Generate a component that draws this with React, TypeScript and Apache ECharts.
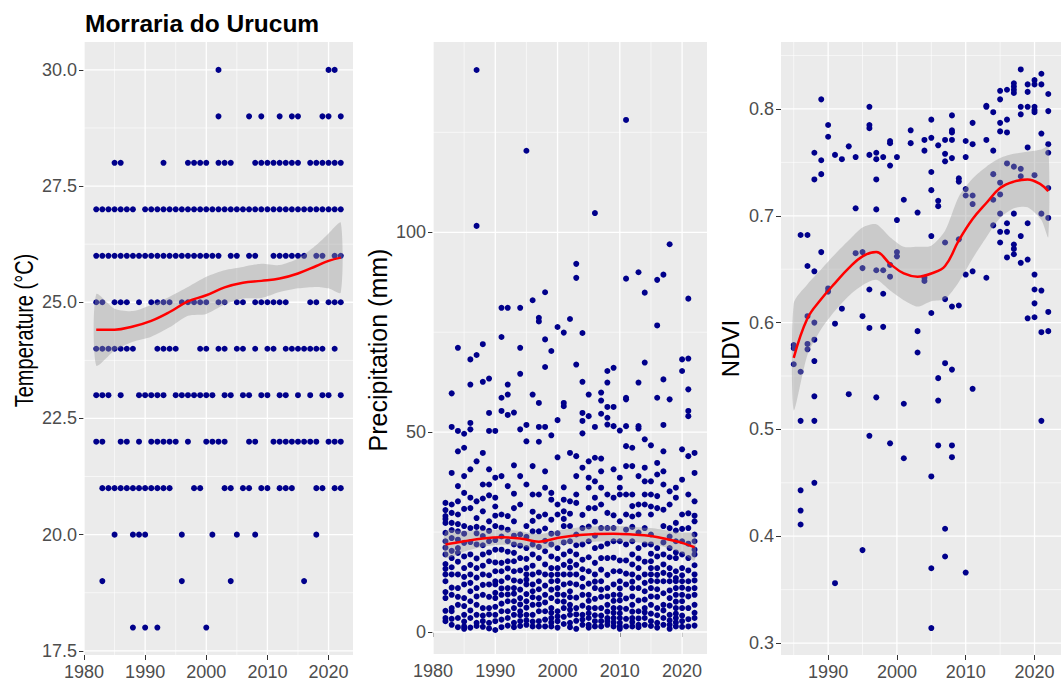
import React, { useEffect, useRef } from 'react';
import * as echarts from 'echarts';

const FONT = '"Liberation Sans", Arial, Helvetica, sans-serif';
const POINT = '#00008B';

// ---------- Temperature (°C): years in which each (integer) monthly value occurs ----------
const temp30 = [2002, 2020, 2021];
const temp29 = [2002, 2007, 2009, 2012, 2014, 2015, 2019, 2020, 2022];
const temp28 = [1985, 1986, 1993, 1997, 1998, 1999, 2000, 2002, 2003, 2004, 2008, 2009, 2010, 2011, 2012, 2013, 2014, 2015, 2017, 2018, 2019, 2020, 2021, 2022];
const temp27 = [1982, 1983, 1984, 1985, 1986, 1987, 1988, 1990, 1991, 1992, 1993, 1994, 1995, 1996, 1997, 1998, 1999, 2000, 2001, 2002, 2003, 2004, 2005, 2006, 2007, 2008, 2009, 2010, 2011, 2012, 2013, 2014, 2015, 2016, 2017, 2018, 2019, 2020, 2021, 2022];
const temp26 = [1982, 1983, 1984, 1985, 1986, 1987, 1988, 1989, 1990, 1991, 1992, 1993, 1994, 1995, 1996, 1997, 1998, 1999, 2000, 2001, 2002, 2004, 2005, 2007, 2008, 2011, 2012, 2013, 2014, 2015, 2016, 2018, 2019, 2021, 2022];
const temp25 = [1982, 1983, 1985, 1986, 1987, 1989, 1991, 1992, 1993, 1994, 1996, 1997, 1998, 1999, 2000, 2002, 2003, 2005, 2006, 2008, 2009, 2010, 2011, 2012, 2013, 2017, 2018, 2020, 2021, 2022];
const temp24 = [1982, 1983, 1984, 1985, 1986, 1987, 1988, 1992, 1993, 1994, 1995, 1999, 2000, 2002, 2003, 2005, 2006, 2008, 2010, 2011, 2013, 2014, 2015, 2016, 2017, 2018, 2019, 2021];
const temp23 = [1982, 1983, 1984, 1986, 1989, 1990, 1991, 1992, 1993, 1995, 1996, 1997, 1998, 1999, 2000, 2001, 2003, 2004, 2006, 2007, 2009, 2010, 2012, 2013, 2015, 2017, 2019, 2020, 2022];
const temp22 = [1982, 1983, 1986, 1987, 1989, 1991, 1992, 1993, 1994, 1995, 1997, 2000, 2001, 2002, 2003, 2007, 2008, 2011, 2012, 2013, 2014, 2015, 2016, 2017, 2018, 2020, 2021, 2022];
const temp21 = [1983, 1984, 1985, 1986, 1987, 1988, 1989, 1990, 1991, 1992, 1993, 1994, 1998, 1999, 2003, 2004, 2006, 2007, 2009, 2010, 2012, 2013, 2014, 2018, 2019, 2021, 2022];
const temp20 = [1985, 1988, 1989, 1990, 1996, 2001, 2005, 2008, 2018];
const temp19 = [1983, 1996, 2004, 2016];
const temp18 = [1988, 1990, 1992, 2000];
const tempLevels = [30, 29, 28, 27, 26, 25, 24, 23, 22, 21, 20, 19, 18];
const tempYearLists = [temp30, temp29, temp28, temp27, temp26, temp25, temp24, temp23, temp22, temp21, temp20, temp19, temp18];

// smooth fit (loess) for temperature
const tempFitX = [1982, 1985, 1988, 1991, 1994, 1997, 2000, 2003, 2006, 2009, 2012, 2015, 2018, 2020, 2022];
const tempFit = [24.41, 24.41, 24.48, 24.60, 24.79, 25.02, 25.15, 25.32, 25.42, 25.46, 25.51, 25.62, 25.78, 25.89, 25.96];
const tempHi = [25.17, 24.86, 24.81, 24.94, 25.12, 25.33, 25.55, 25.69, 25.76, 25.83, 25.80, 25.94, 26.23, 26.48, 26.71];
const tempLo = [23.64, 23.96, 24.15, 24.26, 24.46, 24.71, 24.75, 24.95, 25.08, 25.09, 25.22, 25.30, 25.33, 25.30, 25.21];

// ---------- Precipitation (mm): values per year ----------
const precipYears = [1982, 1983, 1984, 1985, 1986, 1987, 1988, 1989, 1990, 1991, 1992, 1993, 1994, 1995, 1996, 1997, 1998, 1999, 2000, 2001, 2002, 2003, 2004, 2005, 2006, 2007, 2008, 2009, 2010, 2011, 2012, 2013, 2014, 2015, 2016, 2017, 2018, 2019, 2020, 2021, 2022];
const precipValues: number[][] = [
  [2.7, 3.5, 5.3, 8.5, 10.0, 12.7, 14.4, 15.8, 17.0, 19.4, 21.1, 22.7, 24.8, 27.3, 28.3, 29.0, 30.5, 32.3],
  [1.8, 3.3, 5.2, 6.0, 9.3, 11.1, 14.4, 16.2, 18.5, 20.3, 23.5, 25.5, 27.3, 29.8, 31.9, 39.8, 51.3, 59.7],
  [1.2, 3.5, 6.8, 8.8, 11.0, 14.4, 17.6, 19.8, 21.0, 23.1, 25.2, 27.0, 29.4, 32.7, 36.5, 45.2, 50.3, 71.1],
  [0.8, 1.4, 2.6, 4.3, 6.5, 8.5, 11.9, 13.8, 16.0, 18.9, 22.3, 24.6, 26.5, 30.8, 34.8, 39.0, 46.1, 49.6],
  [1.1, 3.5, 5.4, 7.7, 10.2, 12.3, 14.4, 16.8, 19.4, 22.5, 26.0, 31.0, 33.6, 40.7, 50.7, 52.3, 61.9, 68.2],
  [1.5, 2.3, 4.3, 6.8, 8.9, 11.0, 13.6, 16.0, 18.4, 21.9, 24.7, 26.3, 28.5, 32.7, 42.7, 69.3, 101.6, 140.6],
  [1.3, 2.7, 4.1, 6.0, 9.3, 11.8, 14.4, 16.6, 19.4, 21.7, 24.0, 26.0, 30.2, 33.4, 36.9, 44.8, 62.6, 72.0],
  [0.9, 2.3, 4.4, 6.0, 8.8, 11.9, 14.2, 17.7, 19.9, 22.7, 25.3, 27.7, 34.2, 36.9, 40.7, 50.3, 54.8, 63.4],
  [0.5, 2.7, 4.3, 6.3, 8.5, 9.8, 11.9, 12.7, 15.2, 17.4, 20.6, 23.0, 26.5, 29.1, 31.4, 33.6, 38.6, 50.3],
  [1.2, 3.1, 5.2, 7.1, 9.3, 10.9, 12.7, 15.2, 17.3, 20.6, 23.9, 26.1, 29.4, 39.0, 55.3, 58.6, 73.8, 81.1],
  [1.6, 3.5, 5.2, 7.7, 9.4, 11.0, 13.6, 15.9, 17.7, 20.1, 22.7, 25.6, 29.0, 36.5, 54.3, 59.4, 61.9, 81.1],
  [1.2, 2.3, 4.3, 6.0, 7.7, 9.6, 11.0, 12.9, 15.2, 17.7, 19.8, 21.9, 24.1, 27.7, 31.0, 34.6, 41.7, 54.9],
  [1.5, 2.7, 4.2, 5.2, 6.9, 8.5, 10.6, 12.7, 15.4, 18.5, 21.6, 24.4, 31.9, 39.0, 50.7, 64.6, 71.1, 81.1],
  [1.8, 2.9, 4.3, 6.1, 7.7, 9.5, 11.9, 13.1, 14.4, 16.0, 18.3, 21.0, 23.8, 26.5, 36.9, 47.7, 51.8, 120.4],
  [1.4, 2.6, 4.3, 6.8, 8.7, 10.2, 11.9, 14.4, 16.6, 19.4, 21.9, 25.2, 27.8, 30.1, 34.4, 41.5, 59.4, 83.0],
  [1.4, 2.7, 5.2, 6.9, 8.5, 10.7, 12.7, 14.9, 18.5, 21.3, 25.2, 28.9, 34.4, 47.6, 51.3, 57.3, 77.7, 78.6],
  [1.4, 3.1, 5.2, 7.4, 9.3, 11.6, 14.4, 16.9, 20.2, 22.8, 25.9, 29.4, 36.1, 40.2, 51.3, 66.3, 73.2, 85.0],
  [1.4, 2.4, 3.5, 4.8, 6.0, 8.5, 10.6, 12.7, 14.3, 16.0, 18.9, 21.9, 24.6, 28.1, 33.1, 34.8, 49.2, 70.3],
  [1.1, 2.7, 3.9, 5.2, 7.7, 9.4, 11.0, 12.8, 14.4, 16.0, 18.3, 21.0, 24.7, 29.4, 31.9, 43.7, 53.0, 76.3],
  [2.0, 3.8, 6.0, 7.6, 9.3, 11.9, 14.4, 16.8, 19.4, 22.4, 26.5, 28.3, 30.2, 33.1, 36.2, 56.5, 57.3, 74.9],
  [1.2, 2.3, 4.3, 5.6, 6.8, 8.7, 10.2, 12.2, 14.4, 16.1, 17.7, 20.2, 22.7, 26.5, 29.6, 32.7, 44.8, 78.3],
  [0.8, 2.8, 4.4, 6.0, 8.6, 11.9, 14.4, 16.8, 19.4, 21.7, 24.4, 32.3, 34.4, 39.0, 44.0, 66.9, 88.6, 92.1],
  [1.8, 3.1, 4.3, 6.6, 9.3, 11.3, 13.5, 15.7, 18.1, 21.9, 26.0, 29.3, 41.1, 49.7, 52.8, 54.8, 62.6, 74.8],
  [1.1, 1.8, 3.5, 4.7, 6.0, 7.8, 9.3, 12.1, 15.2, 18.7, 22.7, 26.4, 31.0, 36.1, 38.6, 42.7, 54.0, 59.4],
  [1.4, 2.7, 4.2, 6.0, 8.3, 11.0, 12.6, 14.4, 17.3, 21.0, 24.1, 27.6, 31.0, 33.6, 37.7, 43.6, 51.3, 104.8],
  [1.4, 2.7, 4.1, 6.0, 8.8, 10.6, 12.7, 15.6, 18.5, 21.4, 26.0, 31.9, 36.1, 40.2, 43.4, 54.6, 57.9, 59.9],
  [1.8, 2.7, 3.5, 5.1, 6.8, 8.9, 11.0, 14.3, 18.5, 22.1, 26.0, 29.8, 34.4, 51.9, 53.6, 56.3, 62.4, 65.3],
  [1.4, 2.4, 3.5, 4.8, 6.0, 7.8, 9.3, 11.9, 15.2, 18.6, 22.7, 26.0, 29.2, 33.6, 40.7, 51.5, 56.3, 66.1],
  [0.8, 1.4, 2.3, 3.5, 4.7, 6.0, 7.9, 9.3, 10.9, 12.7, 15.2, 17.9, 22.7, 27.7, 34.4, 36.1, 38.6, 50.4],
  [1.4, 3.3, 5.8, 8.4, 11.9, 14.6, 17.9, 21.9, 25.6, 29.4, 34.4, 41.5, 46.5, 51.5, 58.2, 58.6, 88.4, 128.1],
  [1.4, 2.5, 3.5, 5.1, 6.8, 8.9, 11.0, 12.6, 14.4, 16.9, 19.4, 22.7, 26.3, 28.9, 31.5, 34.4, 41.5, 46.1],
  [1.2, 1.8, 3.4, 5.2, 7.9, 11.0, 13.6, 16.0, 18.4, 21.0, 24.9, 29.4, 31.9, 39.0, 50.9, 51.5, 62.4, 90.0],
  [1.8, 3.5, 4.9, 6.0, 8.1, 10.2, 12.3, 14.4, 17.6, 21.9, 26.0, 31.9, 34.4, 37.7, 41.1, 48.2, 67.4, 84.9],
  [1.5, 2.7, 4.6, 6.8, 8.9, 11.0, 12.8, 14.4, 16.0, 17.7, 19.6, 21.9, 24.4, 29.4, 31.4, 34.4, 37.7, 46.7],
  [1.1, 2.3, 4.2, 6.0, 8.8, 10.7, 12.7, 14.3, 16.0, 18.9, 21.0, 31.0, 34.0, 39.4, 42.3, 58.6, 76.7, 88.1],
  [1.8, 3.5, 5.4, 6.8, 9.7, 12.7, 14.8, 16.9, 19.4, 22.4, 26.5, 30.6, 36.9, 40.2, 45.2, 51.8, 63.2, 89.4],
  [0.8, 1.8, 2.9, 4.3, 6.6, 8.5, 10.4, 12.7, 14.3, 16.0, 18.7, 21.0, 23.9, 26.0, 31.9, 35.2, 58.2, 97.0],
  [1.4, 2.4, 3.5, 4.6, 6.0, 7.6, 9.3, 11.0, 12.7, 13.5, 15.2, 18.5, 19.9, 22.7, 25.4, 27.3, 33.6, 36.1],
  [1.3, 2.7, 4.1, 6.0, 7.7, 9.3, 11.1, 12.7, 14.2, 16.0, 19.4, 22.7, 25.8, 29.4, 38.1, 45.7, 65.3, 68.2],
  [1.4, 3.2, 6.0, 8.9, 10.8, 12.7, 15.4, 18.5, 22.1, 26.0, 29.7, 34.4, 44.0, 54.0, 55.3, 60.7, 68.4, 83.4],
  [1.6, 3.5, 4.8, 6.8, 9.3, 11.0, 12.9, 14.4, 16.7, 19.4, 20.6, 22.7, 24.4, 27.7, 29.1, 32.7, 39.8, 44.8],
];
const precipFitX = [1982, 1985, 1988, 1991, 1994, 1997, 2000, 2003, 2006, 2009, 2012, 2015, 2018, 2020, 2022];
const precipFit = [21.9, 22.7, 23.4, 23.7, 23.4, 22.6, 23.5, 24.2, 24.5, 24.6, 24.4, 24.0, 23.1, 22.3, 21.2];
const precipHi = [25.2, 25.3, 25.5, 25.6, 25.3, 24.5, 25.4, 26.1, 26.4, 26.5, 26.3, 26.0, 25.3, 24.9, 24.5];
const precipLo = [18.6, 20.1, 21.3, 21.8, 21.5, 20.7, 21.6, 22.3, 22.6, 22.7, 22.5, 22.0, 20.9, 19.7, 17.9];

// ---------- NDVI: values per year ----------
const ndviYears = [1985, 1986, 1987, 1988, 1989, 1990, 1991, 1992, 1993, 1994, 1995, 1996, 1997, 1998, 1999, 2000, 2001, 2002, 2003, 2004, 2005, 2006, 2007, 2008, 2009, 2010, 2011, 2013, 2014, 2015, 2016, 2017, 2018, 2019, 2020, 2021, 2022];
const ndviValues: number[][] = [
  [0.579, 0.576, 0.561],
  [0.682, 0.554, 0.508, 0.443, 0.424, 0.411],
  [0.682, 0.653, 0.606, 0.580, 0.575],
  [0.759, 0.734, 0.648, 0.600, 0.584, 0.564, 0.531, 0.508, 0.450],
  [0.809, 0.752, 0.739, 0.666],
  [0.785, 0.774, 0.632, 0.629],
  [0.757, 0.599, 0.356],
  [0.753, 0.613],
  [0.765, 0.533],
  [0.755, 0.707, 0.665],
  [0.666, 0.651, 0.606, 0.387],
  [0.802, 0.785, 0.782, 0.757, 0.631, 0.595, 0.494],
  [0.759, 0.753, 0.734, 0.706, 0.649, 0.530],
  [0.755, 0.649, 0.627, 0.596],
  [0.770, 0.768, 0.747, 0.654, 0.643, 0.487],
  [0.755, 0.696, 0.666, 0.662],
  [0.715, 0.524, 0.473],
  [0.780, 0.768],
  [0.703, 0.592, 0.572],
  [0.771, 0.761, 0.642, 0.639],
  [0.790, 0.773, 0.741, 0.724, 0.681, 0.609, 0.456, 0.370, 0.314],
  [0.766, 0.714, 0.709, 0.548, 0.527, 0.485],
  [0.771, 0.758, 0.751, 0.675, 0.622, 0.562, 0.407, 0.381],
  [0.794, 0.780, 0.778, 0.771, 0.754, 0.615, 0.556, 0.485, 0.474],
  [0.735, 0.732, 0.678, 0.616],
  [0.770, 0.755, 0.725, 0.719, 0.645, 0.366],
  [0.787, 0.767, 0.719, 0.711, 0.648, 0.538],
  [0.803, 0.802, 0.771, 0.642],
  [0.797, 0.761, 0.739, 0.715, 0.691],
  [0.817, 0.809, 0.787, 0.779, 0.731, 0.720, 0.702, 0.685, 0.675],
  [0.818, 0.790, 0.778, 0.749, 0.693, 0.685, 0.661],
  [0.824, 0.821, 0.818, 0.815, 0.746, 0.702, 0.673, 0.669, 0.664],
  [0.837, 0.802, 0.795, 0.744, 0.737, 0.681, 0.656],
  [0.823, 0.816, 0.802, 0.764, 0.693, 0.659, 0.604],
  [0.827, 0.823, 0.802, 0.799, 0.797, 0.738, 0.645, 0.631, 0.618, 0.605],
  [0.833, 0.823, 0.777, 0.702, 0.630, 0.591, 0.508],
  [0.814, 0.798, 0.767, 0.759, 0.726, 0.698, 0.610, 0.592],
];
const ndviFitX = [1985, 1987, 1989, 1991, 1993, 1995, 1997, 1999, 2001, 2003, 2005, 2007, 2009, 2011, 2013, 2015, 2017, 2019, 2021, 2022];
const ndviFit = [0.567, 0.604, 0.622, 0.637, 0.651, 0.662, 0.666, 0.655, 0.646, 0.643, 0.646, 0.653, 0.677, 0.697, 0.712, 0.726, 0.732, 0.734, 0.729, 0.723];
const ndviHi = [0.618, 0.636, 0.650, 0.664, 0.677, 0.689, 0.692, 0.680, 0.671, 0.671, 0.672, 0.686, 0.718, 0.735, 0.746, 0.754, 0.758, 0.760, 0.762, 0.765];
const ndviLo = [0.518, 0.570, 0.594, 0.611, 0.625, 0.635, 0.640, 0.630, 0.621, 0.615, 0.620, 0.622, 0.638, 0.660, 0.680, 0.698, 0.707, 0.708, 0.696, 0.680];

// ---------- axis ticks ----------
const yearTicks = [1980, 1990, 2000, 2010, 2020];
const yearMinor = [1985, 1995, 2005, 2015];
const ndviYearTicks = [1990, 2000, 2010, 2020];
const tempTicks = [17.5, 20, 22.5, 25, 27.5, 30];
const tempMinor = [18.75, 21.25, 23.75, 26.25, 28.75];
const precipTicks = [0, 50, 100];
const precipMinor = [25, 75, 125];
const ndviTicks = [0.3, 0.4, 0.5, 0.6, 0.7, 0.8];
const ndviMinor = [0.35, 0.45, 0.55, 0.65, 0.75, 0.85];

function xAxis(gi: number, min: number, max: number, ticks: number[]) {
  return {
    type: 'value', gridIndex: gi, min, max,
    axisLine: { show: false },
    axisTick: { show: true, length: 5, lineStyle: { color: '#333333', width: 1 }, customValues: ticks },
    axisLabel: { customValues: ticks, color: '#4D4D4D', fontSize: 18, fontFamily: FONT, margin: 8, formatter: (v: number) => String(v) },
    splitLine: { show: false },
  };
}

function yAxis(gi: number, min: number, max: number, ticks: number[], fmt: (v: number) => string) {
  return {
    type: 'value', gridIndex: gi, min, max,
    axisLine: { show: false },
    axisTick: { show: true, length: 5, lineStyle: { color: '#333333', width: 1 }, customValues: ticks },
    axisLabel: { customValues: ticks, color: '#4D4D4D', fontSize: 18, fontFamily: FONT, margin: 7, formatter: fmt },
    splitLine: { show: false },
  };
}

function gridLines(gi: number, values: number[], vertical: boolean, width: number, xMid: number, yMid: number) {
  return {
    type: 'custom', xAxisIndex: gi, yAxisIndex: gi, silent: true, z: 1,
    data: values.map((v) => (vertical ? [v, yMid] : [xMid, v])),
    renderItem: (params: any, api: any) => {
      const cs = params.coordSys;
      const p = api.coord([api.value(0), api.value(1)]);
      const shape = vertical
        ? { x1: p[0], y1: cs.y, x2: p[0], y2: cs.y + cs.height }
        : { x1: cs.x, y1: p[1], x2: cs.x + cs.width, y2: p[1] };
      return { type: 'line', shape, style: { stroke: '#FFFFFF', lineWidth: width } };
    },
  };
}

function band(gi: number, xs: number[], lo: number[], hi: number[]) {
  return {
    type: 'custom', xAxisIndex: gi, yAxisIndex: gi, silent: true, z: 3,
    data: [[xs[0], lo[0]]],
    renderItem: (params: any, api: any) => {
      if (params.dataIndex !== 0) return null;
      const pts: number[][] = [];
      xs.forEach((x, i) => pts.push(api.coord([x, hi[i]])));
      for (let i = xs.length - 1; i >= 0; i--) pts.push(api.coord([xs[i], lo[i]]));
      return { type: 'polygon', shape: { points: pts, smooth: 0.25 }, style: { fill: 'rgba(153,153,153,0.4)' } };
    },
  };
}

function fitLine(gi: number, xs: number[], ys: number[]) {
  return {
    type: 'line', xAxisIndex: gi, yAxisIndex: gi, silent: true, z: 4,
    data: xs.map((x, i) => [x, ys[i]]),
    smooth: 0.4, showSymbol: false, symbol: 'none',
    lineStyle: { color: '#FF0000', width: 2.5 },
  };
}

function scatter(gi: number, data: number[][]) {
  return {
    type: 'scatter', xAxisIndex: gi, yAxisIndex: gi, silent: true, z: 2,
    data, symbolSize: 6, itemStyle: { color: POINT, opacity: 1 },
  };
}

function axisTitle(text: string, x: number, y: number, size: number, squeeze: number) {
  return {
    type: 'text', x, y, rotation: Math.PI / 2, scaleX: squeeze, scaleY: 1, silent: true,
    style: {
      text, fontSize: size, fontFamily: FONT, fill: '#000000',
      align: 'center', verticalAlign: 'middle', textAlign: 'center', textVerticalAlign: 'middle',
    },
  };
}

const tempPoints: number[][] = [];
tempLevels.forEach((lv, i) => tempYearLists[i].forEach((yr) => tempPoints.push([yr, lv])));
const precipPoints: number[][] = [];
precipYears.forEach((yr, i) => precipValues[i].forEach((v) => precipPoints.push([yr, v])));
const ndviPoints: number[][] = [];
ndviYears.forEach((yr, i) => ndviValues[i].forEach((v) => ndviPoints.push([yr, v])));

const option: any = {
  animation: false,
  backgroundColor: '#FFFFFF',
  title: {
    text: 'Morraria do Urucum', left: 80, top: 6,
    textStyle: { fontSize: 24.5, fontWeight: 'bold', color: '#000000', fontFamily: FONT },
  },
  graphic: [
    axisTitle('Temperature (°C)', 24.5, 330.5, 25, 0.8),
    axisTitle('Precipitation (mm)', 377.5, 350, 25, 1),
    axisTitle('NDVI', 730, 348.5, 24, 1),
  ],
  grid: [
    { left: 84, top: 42, width: 269, height: 613, show: true, backgroundColor: '#EBEBEB', borderWidth: 0 },
    { left: 433, top: 42, width: 274, height: 612, show: true, backgroundColor: '#EBEBEB', borderWidth: 0 },
    { left: 781, top: 42, width: 280, height: 613, show: true, backgroundColor: '#EBEBEB', borderWidth: 0 },
  ],
  xAxis: [
    xAxis(0, 1980, 2024, yearTicks),
    xAxis(1, 1980, 2024, yearTicks),
    xAxis(2, 1983.15, 2023.85, ndviYearTicks),
  ],
  yAxis: [
    yAxis(0, 17.41, 30.6, tempTicks, (v) => v.toFixed(1)),
    yAxis(1, -5.5, 147.6, precipTicks, (v) => String(v)),
    yAxis(2, 0.2888, 0.8627, ndviTicks, (v) => v.toFixed(1)),
  ],
  series: [
    gridLines(0, yearMinor, true, 0.6, 2000, 25),
    gridLines(0, tempMinor, false, 0.6, 2000, 25),
    gridLines(0, yearTicks, true, 1.3, 2000, 25),
    gridLines(0, tempTicks, false, 1.3, 2000, 25),
    gridLines(1, yearMinor, true, 0.6, 2000, 50),
    gridLines(1, precipMinor, false, 0.6, 2000, 50),
    gridLines(1, yearTicks, true, 1.3, 2000, 50),
    gridLines(1, precipTicks, false, 1.3, 2000, 50),
    gridLines(2, yearMinor, true, 0.6, 2000, 0.5),
    gridLines(2, ndviMinor, false, 0.6, 2000, 0.5),
    gridLines(2, ndviYearTicks, true, 1.3, 2000, 0.5),
    gridLines(2, ndviTicks, false, 1.3, 2000, 0.5),
    scatter(0, tempPoints),
    scatter(1, precipPoints),
    scatter(2, ndviPoints),
    band(0, tempFitX, tempLo, tempHi),
    band(1, precipFitX, precipLo, precipHi),
    band(2, ndviFitX, ndviLo, ndviHi),
    fitLine(0, tempFitX, tempFit),
    fitLine(1, precipFitX, precipFit),
    fitLine(2, ndviFitX, ndviFit),
  ],
};

export default function App() {
  const ref = useRef<HTMLDivElement>(null);
  useEffect(() => {
    const chart = echarts.init(ref.current as HTMLDivElement, null, { renderer: 'svg' });
    chart.setOption(option);
    return () => chart.dispose();
  }, []);
  return (
    <div
      ref={ref}
      style={{ position: 'fixed', left: 0, top: 0, width: 1062, height: 682, background: '#FFFFFF' }}
    />
  );
}
